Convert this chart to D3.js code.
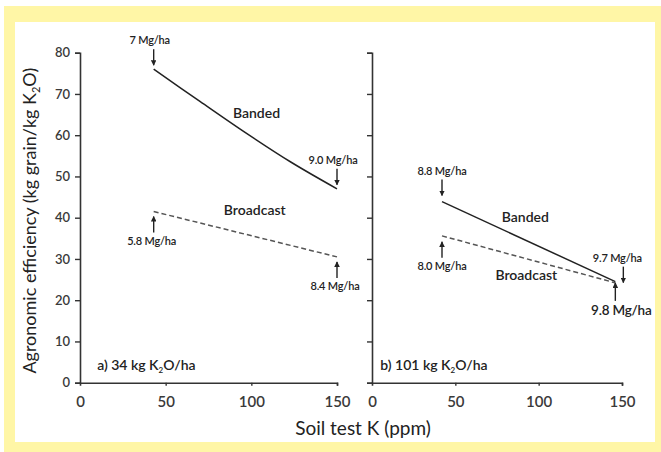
<!DOCTYPE html>
<html>
<head>
<meta charset="utf-8">
<script src="https://cdn.jsdelivr.net/npm/d3@7"></script>
<style>
  body { margin: 0; background: #fff; }
  svg { display: block; font-family: Lato, "Liberation Sans", sans-serif; }
</style>
</head>
<body>
<script>
const width = 661;
const height = 452;

// Data
const xTicks = [0, 50, 100, 150];
const yTicks = [0, 10, 20, 30, 40, 50, 60, 70, 80];

const bandedA = [[43, 76], [70, 68.2], [97, 60.5], [123, 53.5], [150, 47]];
const broadcastA = [[43, 41.5], [150, 30.5]];
const bandedB = [[42, 43.9], [146, 24.5]];
const broadcastB = [[42, 35.6], [146, 24.2]];

const yieldsA = ["7 Mg/ha", "9.0 Mg/ha", "5.8 Mg/ha", "8.4 Mg/ha"];
const yieldsB = ["8.8 Mg/ha", "9.7 Mg/ha", "8.0 Mg/ha", "9.8 Mg/ha"];

const svg = d3.select("body")
    .append("svg")
    .attr("width", width)
    .attr("height", height);

// yellow frame
svg.append("rect")
    .attr("x", 4).attr("y", 6)
    .attr("width", width - 4).attr("height", height - 6)
    .attr("fill", "#fff6a6");
svg.append("rect")
    .attr("x", 15).attr("y", 22)
    .attr("width", 640).attr("height", 420)
    .attr("fill", "#fff");

svg.append("defs").append("marker")
    .attr("id", "head")
    .attr("viewBox", "0 -5 10 10")
    .attr("refX", 9)
    .attr("refY", 0)
    .attr("orient", "auto")
    .attr("markerWidth", 4)
    .attr("markerHeight", 4)
    .append("path")
    .attr("d", "M0,-5L10,0L0,5Z")
    .attr("fill", "#222");

const y = d3.scaleLinear().domain([0, 80]).range([382.7, 52.7]);
const xA = d3.scaleLinear().domain([0, 150]).range([80, 337]);
const xB = d3.scaleLinear().domain([0, 150]).range([372, 622]);

const axisColor = "#333";

function drawAxes(x, showYLabels) {
    const gy = svg.append("g")
        .attr("transform", `translate(${x(0)},0)`)
        .call(d3.axisLeft(y).tickValues(yTicks).tickSize(5).tickPadding(5)
            .tickFormat(showYLabels ? d3.format("d") : ""));
    const gx = svg.append("g")
        .attr("transform", `translate(0,${y(0)})`)
        .call(d3.axisBottom(x).tickValues(xTicks).tickSize(3).tickPadding(11).tickFormat(d3.format("d")));
    [gy, gx].forEach(g => {
        g.select(".domain").attr("stroke", axisColor).attr("stroke-width", 1.6);
        g.selectAll(".tick line").attr("stroke", axisColor).attr("stroke-width", 1.4);
        g.selectAll(".tick text")
            .attr("fill", "#3a3a3a")
            .style("font-family", "Lato, sans-serif")
            .style("font-weight", "600");
    });
    gy.selectAll(".tick text").style("font-size", "13px");
    gx.selectAll(".tick text").style("font-size", "15px");
    gx.select(".tick:first-of-type line").remove();
}

drawAxes(xA, true);
drawAxes(xB, false);

const line = x => d3.line().x(d => x(d[0])).y(d => y(d[1])).curve(d3.curveCatmullRom);

function drawSeries(x, data, dashed) {
    svg.append("path")
        .datum(data)
        .attr("d", line(x))
        .attr("fill", "none")
        .attr("stroke", dashed ? "#555" : "#222")
        .attr("stroke-width", 1.5)
        .attr("stroke-dasharray", dashed ? "5,3" : null);
}

drawSeries(xA, bandedA, false);
drawSeries(xA, broadcastA, true);
drawSeries(xB, bandedB, false);
drawSeries(xB, broadcastB, true);

// yield arrows with labels
function arrow(px, py, dir, text, opts = {}) {
    const gap = opts.gap !== undefined ? opts.gap : (dir === "down" ? 4 : 5);
    const len = opts.len || 16;
    const tip = dir === "down" ? py - gap : py + gap;
    const tail = dir === "down" ? tip - len : tip + len;
    svg.append("line")
        .attr("x1", px).attr("y1", tail)
        .attr("x2", px).attr("y2", tip)
        .attr("stroke", "#222")
        .attr("stroke-width", 1.4)
        .attr("marker-end", "url(#head)");
    svg.append("text")
        .attr("x", px + (opts.tx || 0))
        .attr("y", dir === "down" ? tail - 5 : tail + (opts.fs ? 14 : 12))
        .attr("text-anchor", "middle")
        .attr("fill", "#222")
        .style("font-size", (opts.fs || 11) + "px")
        .style("font-weight", "600")
        .style("letter-spacing", "-0.2px")
        .text(text);
}

const first = s => s[0];
const last = s => s[s.length - 1];

arrow(xA(first(bandedA)[0]), y(first(bandedA)[1]), "down", yieldsA[0], { tx: -4 });
arrow(xA(last(bandedA)[0]), y(last(bandedA)[1]), "down", yieldsA[1], { tx: -4 });
arrow(xA(first(broadcastA)[0]), y(first(broadcastA)[1]), "up", yieldsA[2], { tx: -2 });
arrow(xA(last(broadcastA)[0]), y(last(broadcastA)[1]), "up", yieldsA[3], { tx: -2 });

arrow(xB(first(bandedB)[0]), y(first(bandedB)[1]), "down", yieldsB[0], { gap: 6 });
arrow(xB(last(bandedB)[0]) + 8, y(last(bandedB)[1]), "down", yieldsB[1], { gap: -1, tx: -6 });
arrow(xB(first(broadcastB)[0]), y(first(broadcastB)[1]), "up", yieldsB[2], { gap: 6, tx: 0 });
arrow(xB(last(broadcastB)[0]), y(last(broadcastB)[1]), "up", yieldsB[3], { gap: 0, len: 18, fs: 13.5, tx: 6 });

// series and panel labels (data coordinates)
const seriesLabels = [
    { x: xA, at: [103, 65.4], text: "Banded" },
    { x: xA, at: [102, 41.8], text: "Broadcast" },
    { x: xB, at: [92, 40.2], text: "Banded" },
    { x: xB, at: [92.6, 26], text: "Broadcast" }
];
seriesLabels.forEach(d => {
    svg.append("text")
        .attr("x", d.x(d.at[0]))
        .attr("y", y(d.at[1]))
        .attr("dy", "0.35em")
        .attr("text-anchor", "middle")
        .attr("fill", "#222")
        .style("font-size", "14px")
        .style("font-weight", "600")
        .text(d.text);
});

const panelLabels = [
    { x: xA, at: [10, 4.3], pre: "a) 34 kg K", post: "O/ha" },
    { x: xB, at: [5, 4.3], pre: "b) 101 kg K", post: "O/ha" }
];
panelLabels.forEach(d => {
    const t = svg.append("text")
        .attr("x", d.x(d.at[0]))
        .attr("y", y(d.at[1]))
        .attr("dy", "0.35em")
        .attr("fill", "#222")
        .style("font-size", "14px")
        .style("font-weight", "600");
    t.append("tspan").text(d.pre);
    t.append("tspan").attr("dy", "3").style("font-size", "8px").text("2");
    t.append("tspan").attr("dy", "-3").text(d.post);
});

// axis titles
const yTitle = svg.append("text")
    .attr("transform", `translate(36,${(y(0) + y(80)) / 2 + 3}) rotate(-90)`)
    .attr("text-anchor", "middle")
    .attr("fill", "#222")
    .style("font-size", "18px");
yTitle.append("tspan").text("Agronomic efficiency (kg grain/kg K");
yTitle.append("tspan").attr("dy", "4").style("font-size", "11px").text("2");
yTitle.append("tspan").attr("dy", "-4").text("O)");

svg.append("text")
    .attr("x", 363)
    .attr("y", 435)
    .attr("text-anchor", "middle")
    .attr("fill", "#222")
    .style("font-size", "19px")
    .text("Soil test K (ppm)");
</script>
</body>
</html>
